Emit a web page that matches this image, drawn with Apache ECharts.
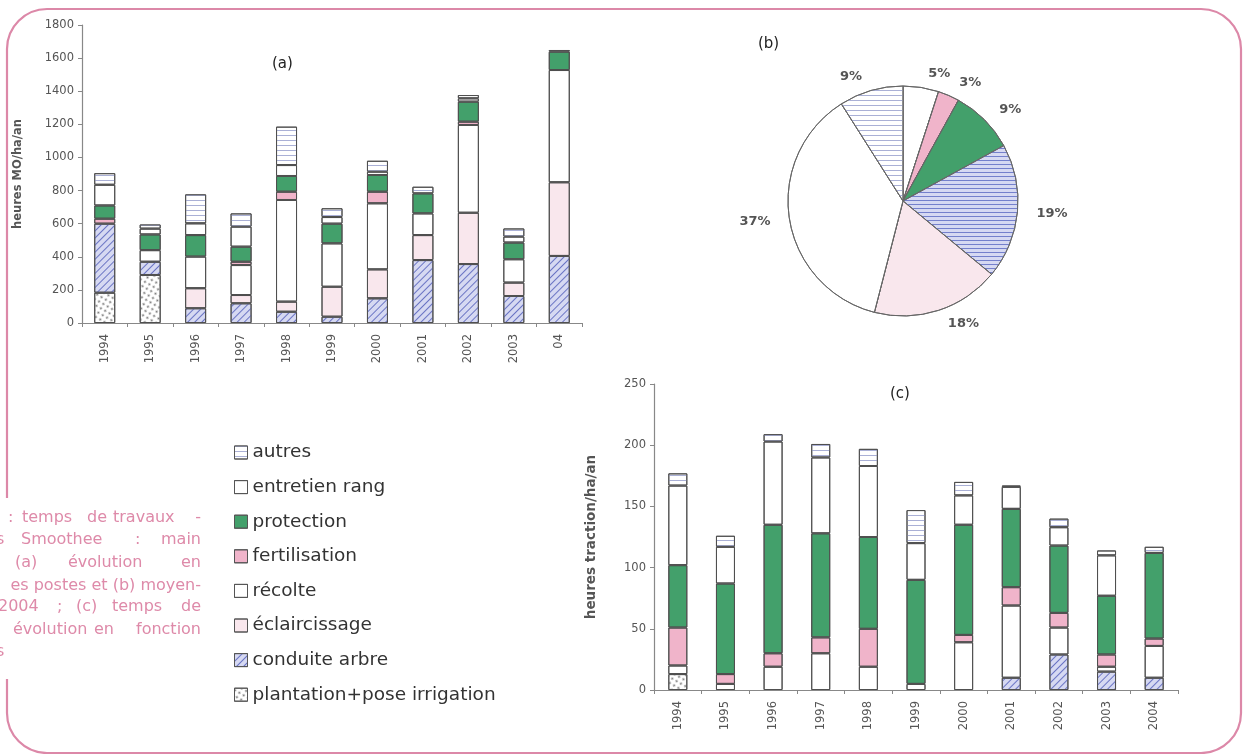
<!DOCTYPE html>
<html><head><meta charset="utf-8">
<script src="https://cdn.jsdelivr.net/npm/echarts@6/dist/echarts.min.js"></script>
<style>html,body{margin:0;padding:0;background:#fff}#c{width:1247px;height:754px}</style>
</head><body><div id="c"></div><script>
// ---------- data ----------
const yearsA = ['1994','1995','1996','1997','1998','1999','2000','2001','2002','2003','04'];
const yearsC = ['1994','1995','1996','1997','1998','1999','2000','2001','2002','2003','2004'];
const ticksA = [0,200,400,600,800,1000,1200,1400,1600,1800];
const ticksC = [0,50,100,150,200,250];

// (a) heures MO/ha/an
const plantationA    = [183,290,0,0,0,0,0,0,0,0,0];
const conduiteA      = [417,80,89,119,68,38,149,380,356,163,405];
const eclaircissageA = [0,0,121,50,61,181,175,151,310,81,445];
const recolteA       = [0,70,191,181,614,262,399,131,530,141,678];
const fertilisationA = [30,0,0,20,50,0,70,0,20,0,0];
const protectionA    = [80,95,130,91,95,119,101,121,121,101,111];
const entretienA     = [125,35,71,121,66,40,20,0,20,36,0];
const autresA        = [70,25,175,80,232,53,66,40,20,49,10];

// (c) heures traction/ha/an
const plantationC    = [13,0,0,0,0,0,0,0,0,0,0];
const conduiteC      = [0,0,0,0,0,0,0,10,29,15,10];
const eclaircissageC = [0,0,0,0,0,0,0,0,0,0,0];
const recolteC       = [7,5,19,30,19,5,39,59,22,4,26];
const fertilisationC = [31,8,11,13,31,0,6,15,12,10,6];
const protectionC    = [51,74,105,85,75,85,90,64,55,48,70];
const entretienC     = [65,30,68,62,58,30,24,18,15,33,0];
const autresC        = [10,9,6,11,14,27,11,1,7,4,5];

// (b) moyenne (%), clockwise from top
const pieNames  = ['entretien rang','fertilisation','protection','conduite arbre','éclaircissage','récolte','autres'];
const pieValues = [5,3,9,19,18,37,9];

const seriesNames = ['plantation+pose irrigation','conduite arbre','éclaircissage','récolte','fertilisation','protection','entretien rang','autres'];
const legendNames = ['autres','entretien rang','protection','fertilisation','récolte','éclaircissage','conduite arbre','plantation+pose irrigation'];

// ---------- styles ----------
const NONE = {symbol:'none'};
const colors = {
  'plantation+pose irrigation':'#ffffff',
  'conduite arbre':'#d6d9f2',
  'éclaircissage':'#f9e7ed',
  'récolte':'#ffffff',
  'fertilisation':'#f0b4ca',
  'protection':'#43a06b',
  'entretien rang':'#ffffff',
  'autres':'#ffffff'
};
const decals = {
  'plantation+pose irrigation':{symbol:'circle',symbolSize:0.75,dashArrayX:[3,1.5],dashArrayY:[3,1.5],color:'#777'},
  'conduite arbre':{symbol:'rect',symbolSize:1,dashArrayX:[1,0],dashArrayY:[1,3.4],rotation:-Math.PI/4,color:'#6a74c4'},
  'éclaircissage':NONE,
  'récolte':NONE,
  'fertilisation':NONE,
  'protection':NONE,
  'entretien rang':NONE,
  'autres':{symbol:'rect',symbolSize:1,dashArrayX:[1,0],dashArrayY:[1,3.5],rotation:0,color:'#aab0d6'}
};
const pieDecals = Object.assign({}, decals, {
  'conduite arbre':{symbol:'rect',symbolSize:1,dashArrayX:[1,0],dashArrayY:[1,2.2],rotation:0,color:'#7480cc'}
});

const dataA = [plantationA,conduiteA,eclaircissageA,recolteA,fertilisationA,protectionA,entretienA,autresA];
const dataC = [plantationC,conduiteC,eclaircissageC,recolteC,fertilisationC,protectionC,entretienC,autresC];

function barSeries(name, data, idx, stack, w) {
  return {
    type:'bar', name, stack, xAxisIndex:idx, yAxisIndex:idx, barWidth:w,
    data:data.map(v => v === 0 ? null : v),
    itemStyle:{color:colors[name], borderColor:'#505050', borderWidth:1, decal:decals[name]},
    emphasis:{disabled:true}
  };
}
const series = [];
seriesNames.forEach((n,i)=>series.push(barSeries(n, dataA[i], 0, 'a', 21)));
seriesNames.forEach((n,i)=>series.push(barSeries(n, dataC[i], 1, 'c', 19)));
series.push({
  type:'pie', center:[903,201], radius:115, startAngle:90, clockwise:true,
  avoidLabelOverlap:false,
  data:pieNames.map((n,i)=>({name:n, value:pieValues[i],
    itemStyle:{color:colors[n], decal:pieDecals[n]}})),
  itemStyle:{borderColor:'#666', borderWidth:1},
  label:{show:true, position:'outside', formatter:'{c}%', fontFamily:'DejaVu Sans', fontSize:13, fontWeight:'bold', color:'#555'},
  labelLine:{show:false, length:14, length2:0},
  emphasis:{disabled:true}
});

const axisFont = {fontFamily:'DejaVu Sans', fontSize:11.5, color:'#555'};
function yAx(idx, ticks, name, gap, nameSize){
  return {type:'value', gridIndex:idx, min:ticks[0], max:ticks[ticks.length-1], interval:ticks[1]-ticks[0],
    name, nameLocation:'middle', nameGap:gap,
    nameTextStyle:{fontFamily:'DejaVu Sans', fontSize:nameSize, fontWeight:'bold', color:'#555'},
    axisLine:{show:true, lineStyle:{color:'#888', width:1.2}},
    axisTick:{show:true, length:4, lineStyle:{color:'#888'}},
    axisLabel:Object.assign({margin:8, formatter:v => String(v)}, axisFont),
    splitLine:{show:false}};
}
function xAx(idx, cats){
  return {type:'category', gridIndex:idx, data:cats,
    axisLine:{show:true, lineStyle:{color:'#888', width:1.2}},
    axisTick:{show:true, length:4, lineStyle:{color:'#888'}},
    axisLabel:Object.assign({rotate:90, interval:0, margin:11}, axisFont),
    splitLine:{show:false}};
}

// caption (partially visible, justified)
const captionFont = '16px "DejaVu Sans"';
const caption = [
  {y:518, w:[[':',8,'left'],['temps',22,'left'],['de',87,'left'],['travaux',113,'left'],['-',201,'right']]},
  {y:540, w:[['s',-4,'left'],['Smoothee',21,'left'],[':',135,'left'],['main',201,'right']]},
  {y:563, w:[['(a)',15,'left'],['évolution',68,'left'],['en',201,'right']]},
  {y:586, w:[['es postes et (b) moyen-',201,'right']]},
  {y:607, w:[['2004',-2,'left'],[';',57,'left'],['(c)',76,'left'],['temps',112,'left'],['de',201,'right']]},
  {y:630, w:[['évolution',13,'left'],['en',94,'left'],['fonction',201,'right']]},
  {y:652, w:[['s',-4,'left']]}
];
const graphics = [
  {type:'rect', z:-10, shape:{x:7,y:9,width:1234,height:744,r:40}, style:{fill:'none', stroke:'#dc88a8', lineWidth:2.2}},
  {type:'rect', z:-9, shape:{x:0,y:498,width:16,height:181}, style:{fill:'#fff'}},
  {type:'text', left:272, top:57, style:{text:'(a)', font:'15px "DejaVu Sans"', fill:'#222'}},
  {type:'text', left:758, top:37, style:{text:'(b)', font:'15px "DejaVu Sans"', fill:'#222'}},
  {type:'text', left:890, top:387, style:{text:'(c)', font:'15px "DejaVu Sans"', fill:'#222'}}
];
caption.forEach(l => l.w.forEach(([t,x,a]) => graphics.push({
  type:'text', z:5, x:x, y:l.y, style:{text:t, font:captionFont, fill:'#de8aa9', textAlign:a, textVerticalAlign:'middle'}
})));

const option = {
  animation:false,
  aria:{enabled:true, decal:{show:true}},
  grid:[
    {left:82, top:25, right:665, bottom:431, outerBoundsMode:'none', containLabel:false},
    {left:654, top:384, right:69, bottom:64, outerBoundsMode:'none', containLabel:false}
  ],
  xAxis:[xAx(0, yearsA), xAx(1, yearsC)],
  yAxis:[yAx(0, ticksA, 'heures MO/ha/an', 58, 11.5), yAx(1, ticksC, 'heures traction/ha/an', 56, 13.5)],
  legend:{
    data:legendNames, orient:'vertical', left:229, top:438, itemWidth:13, itemHeight:13, itemGap:15.6,
    icon:'rect', selectedMode:false,
    textStyle:{fontFamily:'DejaVu Sans', fontSize:18.5, color:'#333', lineHeight:18.4},
    itemStyle:{borderColor:'#555', borderWidth:1}
  },
  graphic:graphics,
  series
};
const chart = echarts.init(document.getElementById('c'), null, {renderer:'canvas'});
chart.setOption(option);
</script></body></html>
